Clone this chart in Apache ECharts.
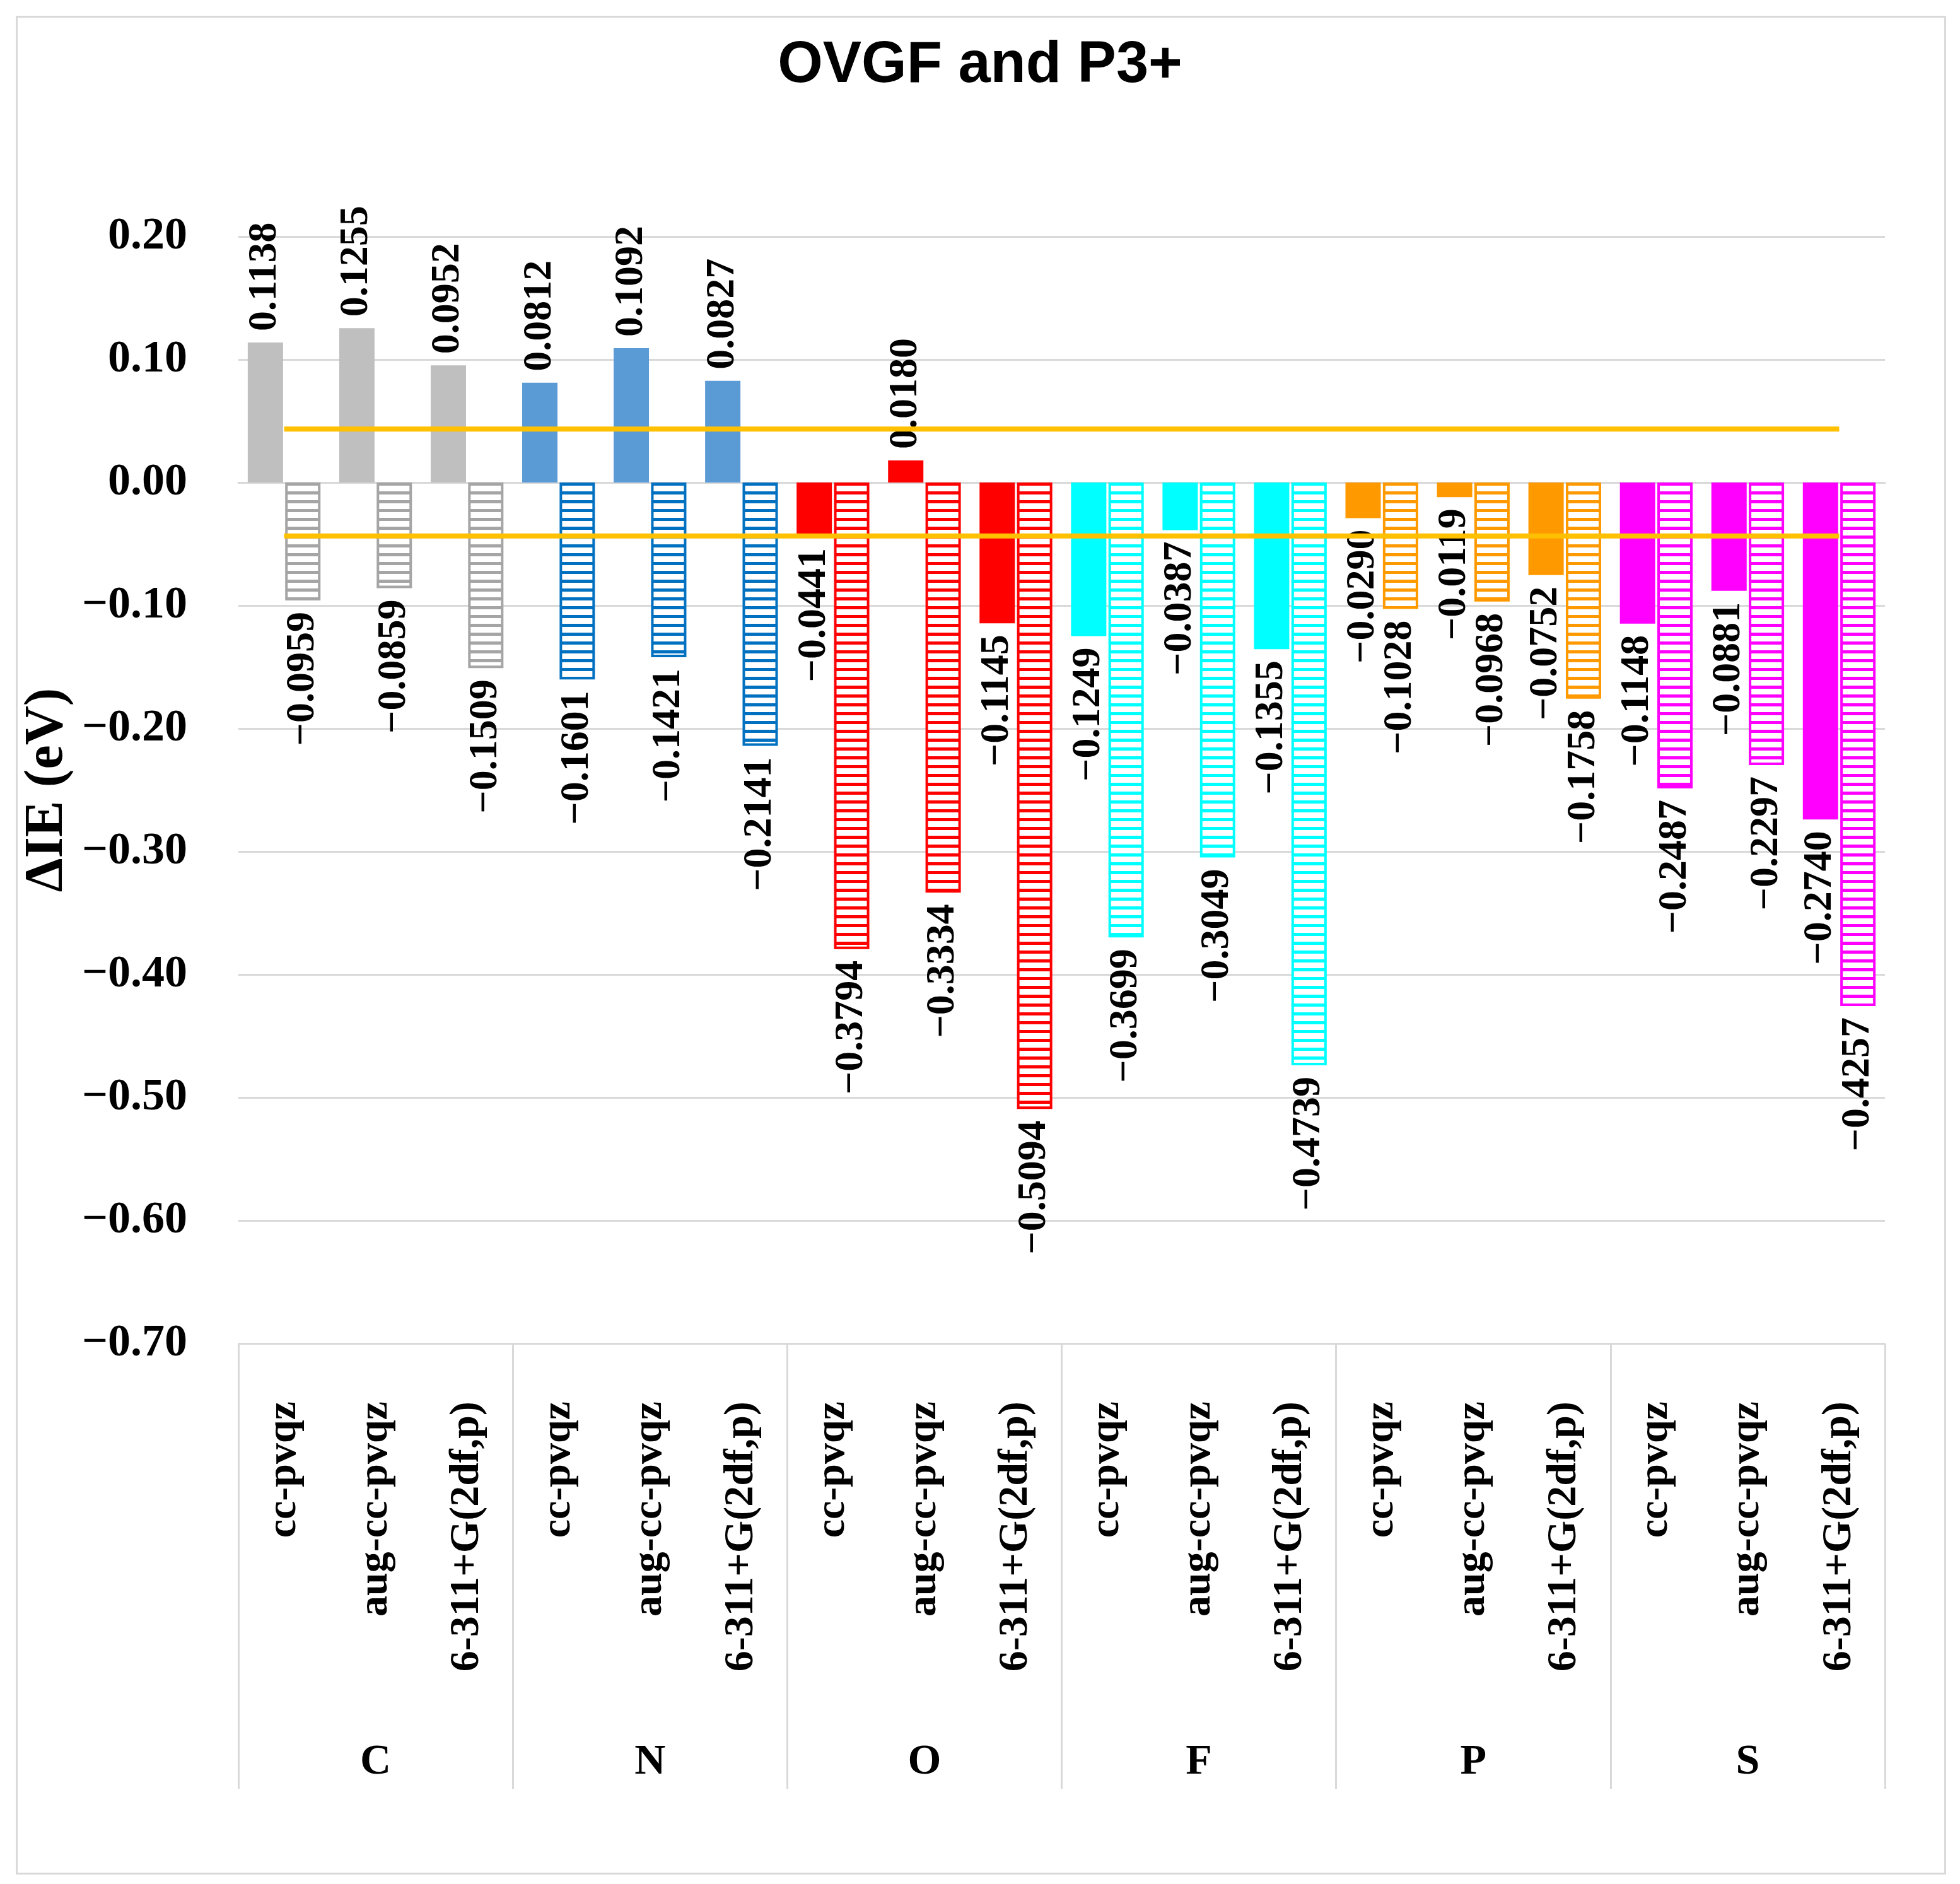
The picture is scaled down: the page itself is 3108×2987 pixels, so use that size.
<!DOCTYPE html>
<html>
<head>
<meta charset="utf-8">
<title>OVGF and P3+</title>
<script src="https://cdn.jsdelivr.net/npm/echarts@6/dist/echarts.min.js"></script>
<style>
  html, body { margin: 0; padding: 0; background: #fff; }
  #chart { width: 3108px; height: 2987px; }
</style>
</head>
<body>
<div id="chart"></div>
<script>
// elements (outer category level) and basis sets (inner level)
const groups = ['C', 'N', 'O', 'F', 'P', 'S'];
const categories = [
  'cc-pvqz', 'aug-cc-pvqz', '6-311+G(2df,p)',
  'cc-pvqz', 'aug-cc-pvqz', '6-311+G(2df,p)',
  'cc-pvqz', 'aug-cc-pvqz', '6-311+G(2df,p)',
  'cc-pvqz', 'aug-cc-pvqz', '6-311+G(2df,p)',
  'cc-pvqz', 'aug-cc-pvqz', '6-311+G(2df,p)',
  'cc-pvqz', 'aug-cc-pvqz', '6-311+G(2df,p)'
];
// ΔIE (eV)
const ovgf = [
  0.1138, 0.1255, 0.0952,
  0.0812, 0.1092, 0.0827,
  -0.0441, 0.0180, -0.1145,
  -0.1249, -0.0387, -0.1355,
  -0.0290, -0.0119, -0.0752,
  -0.1148, -0.0881, -0.2740
];
const p3plus = [
  -0.0959, -0.0859, -0.1509,
  -0.1601, -0.1421, -0.2141,
  -0.3794, -0.3334, -0.5094,
  -0.3699, -0.3049, -0.4739,
  -0.1028, -0.0968, -0.1758,
  -0.2487, -0.2297, -0.4257
];
// chemical accuracy band (±1 kcal/mol)
const bandUpper = [0.0434, 0.0434, 0.0434, 0.0434, 0.0434, 0.0434, 0.0434, 0.0434, 0.0434,
                   0.0434, 0.0434, 0.0434, 0.0434, 0.0434, 0.0434, 0.0434, 0.0434, 0.0434];
const bandLower = [-0.0434, -0.0434, -0.0434, -0.0434, -0.0434, -0.0434, -0.0434, -0.0434, -0.0434,
                   -0.0434, -0.0434, -0.0434, -0.0434, -0.0434, -0.0434, -0.0434, -0.0434, -0.0434];

const solidColors = ['#BFBFBF', '#5B9BD5', '#FF0000', '#00FFFF', '#FF9900', '#FF00FF'];
const hatchColors = ['#A5A5A5', '#0070C0', '#FF0000', '#00FFFF', '#FF9900', '#FF00FF'];

const SERIF = 'Liberation Serif';

function signed(v, d) {
  if (Math.abs(v) < 1e-9) return (0).toFixed(d);
  return (v < 0 ? '\u2212' : '') + Math.abs(v).toFixed(d);
}

// horizontal stripes, white between
function hatch(color) {
  const c = document.createElement('canvas');
  c.width = 8; c.height = 14;
  const ctx = c.getContext('2d');
  ctx.fillStyle = '#fff';
  ctx.fillRect(0, 0, 8, 14);
  ctx.fillStyle = color;
  ctx.fillRect(0, 9, 8, 5);
  return { image: c, repeat: 'repeat' };
}
const patterns = hatchColors.map(hatch);

function barLabel(v) {
  const neg = v < 0;
  return {
    show: true,
    position: neg ? 'bottom' : 'top',
    rotate: 90,
    align: neg ? 'right' : 'left',
    verticalAlign: 'middle',
    distance: 18,
    fontFamily: SERIF,
    fontWeight: 'bold',
    fontSize: 64,
    color: '#000'
  };
}

const ovgfData = ovgf.map(function (v, i) {
  return { value: v, itemStyle: { color: solidColors[Math.floor(i / 3)] }, label: barLabel(v) };
});
const p3Data = p3plus.map(function (v, i) {
  const g = Math.floor(i / 3);
  return {
    value: v,
    itemStyle: { color: patterns[g], borderColor: hatchColors[g], borderWidth: 4 },
    label: barLabel(v)
  };
});

const myChart = echarts.init(document.getElementById('chart'), null, { renderer: 'canvas' });
const option = {
  backgroundColor: '#fff',
  animation: false,
  title: {
    text: 'OVGF and P3+',
    left: 'center',
    top: 54,
    textStyle: { fontFamily: 'Liberation Sans', fontWeight: 'bold', fontSize: 92, color: '#000' }
  },
  graphic: [{
    type: 'rect',
    left: 24, top: 24,
    shape: { width: 3058, height: 2944 },
    style: { fill: 'none', stroke: '#D9D9D9', lineWidth: 3 },
    silent: true
  }],
  grid: { left: 378, right: 119, top: 375, bottom: 857 },
  xAxis: [{
    type: 'category',
    data: categories,
    axisLine: { show: true, lineStyle: { color: '#D9D9D9', width: 3 } },
    axisTick: { show: false },
    axisLabel: {
      interval: 0, rotate: 90, margin: 92,
      fontFamily: SERIF, fontWeight: 'bold', fontSize: 66, color: '#000'
    }
  }, {
    type: 'category',
    data: groups,
    position: 'bottom',
    axisLine: { show: false },
    axisTick: { show: true, interval: 0, length: 706, lineStyle: { color: '#D9D9D9', width: 3 } },
    axisLabel: {
      interval: 0, margin: 630,
      fontFamily: SERIF, fontWeight: 'bold', fontSize: 68, color: '#000'
    }
  }],
  yAxis: {
    type: 'value',
    min: -0.7, max: 0.2, interval: 0.1,
    name: '\u0394IE (eV)',
    nameLocation: 'middle',
    nameRotate: 90,
    nameGap: 253,
    nameTextStyle: { fontFamily: SERIF, fontWeight: 'bold', fontSize: 86, color: '#000' },
    axisLine: { show: false },
    axisTick: { show: false },
    splitLine: { lineStyle: { color: '#D9D9D9', width: 3 } },
    axisLabel: {
      margin: 81,
      fontFamily: SERIF, fontWeight: 'bold', fontSize: 72, color: '#000',
      formatter: function (v) { return signed(v, 2); }
    }
  },
  series: [{
    name: 'OVGF',
    type: 'bar',
    barWidth: 56,
    barGap: '6%',
    data: ovgfData,
    label: { formatter: function (p) { return signed(p.value, 4); } }
  }, {
    name: 'P3+',
    type: 'bar',
    barWidth: 56,
    data: p3Data,
    label: { formatter: function (p) { return signed(p.value, 4); } }
  }, {
    name: 'upper',
    type: 'line',
    data: bandUpper,
    symbol: 'none',
    silent: true,
    z: 3,
    lineStyle: { color: '#FFC000', width: 8 }
  }, {
    name: 'lower',
    type: 'line',
    data: bandLower,
    symbol: 'none',
    silent: true,
    z: 3,
    lineStyle: { color: '#FFC000', width: 8 }
  }]
};
myChart.setOption(option);
</script>
</body>
</html>
